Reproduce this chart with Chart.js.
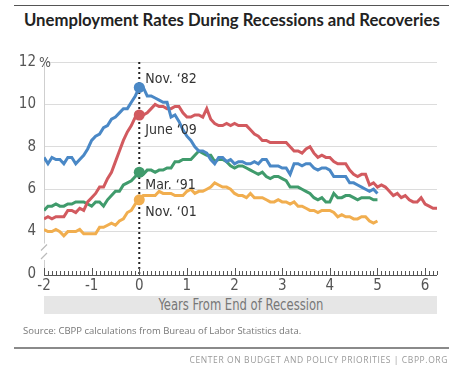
<!DOCTYPE html>
<html>
<head>
<meta charset="utf-8">
<script src="https://cdn.jsdelivr.net/npm/chart.js@4.4.0/dist/chart.umd.min.js"></script>
<style>
  html, body { margin: 0; padding: 0; background: #fff; }
  #page { position: relative; width: 461px; height: 376px; overflow: hidden; }
  #chart { position: absolute; left: 0; top: 0; }
  .rule { position: absolute; left: 14px; width: 435px; }
  #title { position: absolute; left: 24px; top: 10px; font: 700 16.7px Lato, "Open Sans", sans-serif; color: #222; white-space: nowrap; }
  #xtitle { position: absolute; left: 44px; top: 296px; width: 393px; height: 18px; background: #e6e6e6;
            font: 15px "Liberation Sans Narrow", "DejaVu Sans Condensed", sans-serif; color: #777;
            text-align: center; line-height: 18px; }
  #xtitle span { display: inline-block; transform: scaleX(0.86); }
  #source { position: absolute; left: 23px; top: 324px; font: 9.5px "Open Sans", sans-serif; color: #777; white-space: nowrap; }
  #footer { position: absolute; right: 13px; top: 354px; font: 8.5px "Open Sans", sans-serif; color: #999; letter-spacing: 0.6px; white-space: nowrap; }
</style>
</head>
<body>
<div id="page">
  <div class="rule" style="top:5px;height:1px;background:#555;"></div>
  <div id="title">Unemployment Rates During Recessions and Recoveries</div>
  <canvas id="chart" width="461" height="376"></canvas>
  <div id="xtitle"><span>Years From End of Recession</span></div>
  <div id="source">Source: CBPP calculations from Bureau of Labor Statistics data.</div>
  <div class="rule" style="top:347px;height:2px;background:#8a8a8a;"></div>
  <div id="footer">CENTER ON BUDGET AND POLICY PRIORITIES | CBPP.ORG</div>
</div>
<script>
// Monthly unemployment rates, starting 24 months before the end of each recession
const rates1982 = [7.5, 7.2,
  7.5, 7.4, 7.4, 7.2, 7.5, 7.5, 7.2, 7.4, 7.6, 7.9, 8.3, 8.5,
  8.6, 8.9, 9.0, 9.3, 9.4, 9.6, 9.8, 9.8, 10.1, 10.4, 10.8, 10.8,
  10.4, 10.4, 10.3, 10.2, 10.1, 10.1, 9.4, 9.5, 9.2, 8.8, 8.5, 8.3,
  8.0, 7.8, 7.8, 7.7, 7.4, 7.2, 7.5, 7.5, 7.3, 7.4, 7.2, 7.3,
  7.3, 7.2, 7.2, 7.3, 7.2, 7.4, 7.4, 7.1, 7.1, 7.1, 7.0, 7.0,
  6.7, 7.2, 7.2, 7.1, 7.2, 7.2, 7.0, 6.9, 7.0, 7.0, 6.9, 6.6,
  6.6, 6.6, 6.6, 6.3, 6.3, 6.2, 6.1, 6.0, 5.9, 6.0, 5.8];

const rates2009 = [4.6, 4.7, 4.6, 4.7, 4.7, 4.7, 5.0,
  5.0, 4.9, 5.1, 5.0, 5.4, 5.6, 5.8, 6.1, 6.1, 6.5, 6.8, 7.3,
  7.8, 8.3, 8.7, 9.0, 9.4, 9.5, 9.5, 9.6, 9.8, 10.0, 9.9, 9.9,
  9.8, 9.8, 9.9, 9.9, 9.6, 9.4, 9.4, 9.5, 9.5, 9.4, 9.8, 9.3,
  9.1, 9.0, 9.0, 9.1, 9.0, 9.1, 9.0, 9.0, 9.0, 8.8, 8.6, 8.5,
  8.3, 8.3, 8.2, 8.2, 8.2, 8.2, 8.2, 8.0, 7.8, 7.8, 7.7, 7.9,
  8.0, 7.7, 7.5, 7.6, 7.5, 7.5, 7.3, 7.2, 7.2, 7.2, 6.9, 6.7,
  6.6, 6.7, 6.7, 6.2, 6.3, 6.1, 6.2, 6.1, 5.9, 5.7, 5.8, 5.6,
  5.7, 5.5, 5.4, 5.4, 5.6, 5.3, 5.2, 5.1, 5.1];

const rates1991 = [5.0, 5.2, 5.2, 5.3, 5.2, 5.2, 5.3, 5.3, 5.4, 5.4,
  5.4, 5.3, 5.2, 5.4, 5.4, 5.2, 5.5, 5.7, 5.9, 5.9, 6.2, 6.3,
  6.4, 6.6, 6.8, 6.7, 6.9, 6.9, 6.8, 6.9, 6.9, 7.0, 7.0, 7.3,
  7.3, 7.4, 7.4, 7.4, 7.6, 7.8, 7.7, 7.6, 7.6, 7.3, 7.4, 7.4,
  7.3, 7.1, 7.0, 7.1, 7.1, 7.0, 6.9, 6.8, 6.7, 6.8, 6.6, 6.5,
  6.6, 6.6, 6.5, 6.4, 6.1, 6.1, 6.1, 6.0, 5.9, 5.8, 5.6, 5.5,
  5.6, 5.4, 5.4, 5.8, 5.6, 5.6, 5.7, 5.7, 5.6, 5.5, 5.6, 5.6,
  5.6, 5.5, 5.5];

const rates2001 = [4.1, 4.0,
  4.0, 4.1, 4.0, 3.8, 4.0, 4.0, 4.0, 4.1, 3.9, 3.9, 3.9, 3.9,
  4.2, 4.2, 4.3, 4.4, 4.3, 4.5, 4.6, 4.9, 5.0, 5.3, 5.5, 5.7,
  5.7, 5.7, 5.7, 5.9, 5.8, 5.8, 5.8, 5.7, 5.7, 5.7, 5.9, 6.0,
  5.8, 5.9, 5.9, 6.0, 6.1, 6.3, 6.2, 6.1, 6.1, 6.0, 5.8, 5.7,
  5.7, 5.6, 5.8, 5.6, 5.6, 5.6, 5.5, 5.4, 5.4, 5.5, 5.4, 5.4,
  5.3, 5.4, 5.2, 5.2, 5.1, 5.0, 5.0, 4.9, 5.0, 5.0, 5.0, 4.9,
  4.7, 4.8, 4.7, 4.7, 4.6, 4.6, 4.7, 4.7, 4.5, 4.4, 4.5];

const recessionEnds = ["Nov. \u201882", "June \u201809", "Mar. \u201891", "Nov. \u201801"];
const seriesColors = ["#4a88c6", "#d25a5f", "#409b6c", "#f1ae4f"];

const xTickValues = [-2, -1, 0, 1, 2, 3, 4, 5, 6];
// the axis is broken below 4: the value 2 is where "0" sits
const yTickValues = [2, 4, 6, 8, 10, 12];
const yTickLabels = ["0", "4", "6", "8", "10", "12"];

const MONTHS_BEFORE = 24;
const toPoints = arr => arr.map((v, i) => ({ x: (i - MONTHS_BEFORE) / 12, y: v }));

const tickFont = { family: "'Liberation Sans Narrow', 'DejaVu Sans Condensed', sans-serif", size: 15 };

const allSeries = [rates1982, rates2009, rates1991, rates2001];
const datasets = allSeries.map((arr, k) => ({
  label: recessionEnds[k],
  data: toPoints(arr),
  borderColor: seriesColors[k],
  backgroundColor: seriesColors[k],
  borderWidth: 3,
  tension: 0,
  pointRadius: c => (c.dataIndex === MONTHS_BEFORE ? 5.5 : 0),
  pointHoverRadius: 0,
  pointBorderWidth: 0
}));

// Extras: dotted line at 0, axis with monthly ticks, axis break, labels
const extras = {
  id: "extras",
  beforeDatasetsDraw(chart) {
    const { ctx, chartArea, scales: { x, y } } = chart;
    const x0 = x.getPixelForValue(0);
    ctx.save();
    ctx.strokeStyle = "#222";
    ctx.lineWidth = 2;
    ctx.setLineDash([2, 3]);
    ctx.beginPath();
    ctx.moveTo(x0, chartArea.top);
    ctx.lineTo(x0, chartArea.bottom);
    ctx.stroke();
    ctx.setLineDash([]);

    // baseline with monthly ticks
    const by = chartArea.bottom + 1;
    ctx.strokeStyle = "#555";
    ctx.lineWidth = 1;
    ctx.beginPath();
    ctx.moveTo(chartArea.left, by + 0.5);
    ctx.lineTo(chartArea.right, by + 0.5);
    for (let m = -MONTHS_BEFORE; m <= 75; m++) {
      const px = Math.round(x.getPixelForValue(m / 12)) + 0.5;
      const h = m % 12 === 0 ? 7 : 4;
      ctx.moveTo(px, by);
      ctx.lineTo(px, by - h);
    }
    ctx.stroke();

    // axis break
    const yb1 = y.getPixelForValue(3.25), yb2 = y.getPixelForValue(2.85);
    const ax = chartArea.left;
    ctx.fillStyle = "#fff";
    ctx.fillRect(ax - 4, yb1 - 4, 8, yb2 - yb1 + 8);
    ctx.strokeStyle = "#bbb";
    ctx.lineWidth = 1.2;
    ctx.beginPath();
    ctx.moveTo(ax - 3, yb1 + 3); ctx.lineTo(ax + 3, yb1 - 3);
    ctx.moveTo(ax - 3, yb2 + 3); ctx.lineTo(ax + 3, yb2 - 3);
    ctx.stroke();

    // percent sign after the top label
    ctx.fillStyle = "#555";
    ctx.font = "14px " + tickFont.family;
    ctx.textBaseline = "middle";
    ctx.fillText("%", chartArea.left - 5, y.getPixelForValue(12) + 1);
    ctx.restore();
  },
  afterDatasetsDraw(chart) {
    const { ctx, scales: { x, y } } = chart;
    const x0 = x.getPixelForValue(0);
    const offsets = [-8, 15, 13, 13];
    ctx.save();
    ctx.fillStyle = "#333";
    ctx.font = "14px " + tickFont.family;
    ctx.textBaseline = "middle";
    allSeries.forEach((arr, k) => {
      const py = y.getPixelForValue(arr[MONTHS_BEFORE]);
      ctx.fillText(recessionEnds[k], x0 + 6, py + offsets[k]);
    });
    ctx.restore();
  }
};

new Chart(document.getElementById("chart"), {
  type: "line",
  data: { datasets },
  plugins: [extras],
  options: {
    responsive: false,
    animation: false,
    events: [],
    layout: { padding: { top: 62, right: 24, bottom: 82, left: 0 } },
    plugins: { legend: { display: false }, tooltip: { enabled: false } },
    scales: {
      x: {
        type: "linear",
        min: -2,
        max: 6.25,
        afterBuildTicks: s => { s.ticks = xTickValues.map(v => ({ value: v })); },
        afterFit: s => { s.height = 20; },
        grid: { display: false, drawTicks: false },
        border: { display: false },
        ticks: { color: "#555", font: tickFont, padding: 3, callback: v => String(v) }
      },
      y: {
        min: 2,
        max: 12,
        afterBuildTicks: s => { s.ticks = yTickValues.map(v => ({ value: v })); },
        afterFit: s => { s.width = 44; },
        grid: {
          drawTicks: false,
          color: c => (c.tick && c.tick.value === 2 ? "rgba(0,0,0,0)" : "#dcdcdc")
        },
        border: { display: true, color: "#cfcfcf" },
        ticks: {
          color: "#555",
          font: tickFont,
          padding: 8,
          callback: v => yTickLabels[yTickValues.indexOf(v)]
        }
      }
    }
  }
});
</script>
</body>
</html>
